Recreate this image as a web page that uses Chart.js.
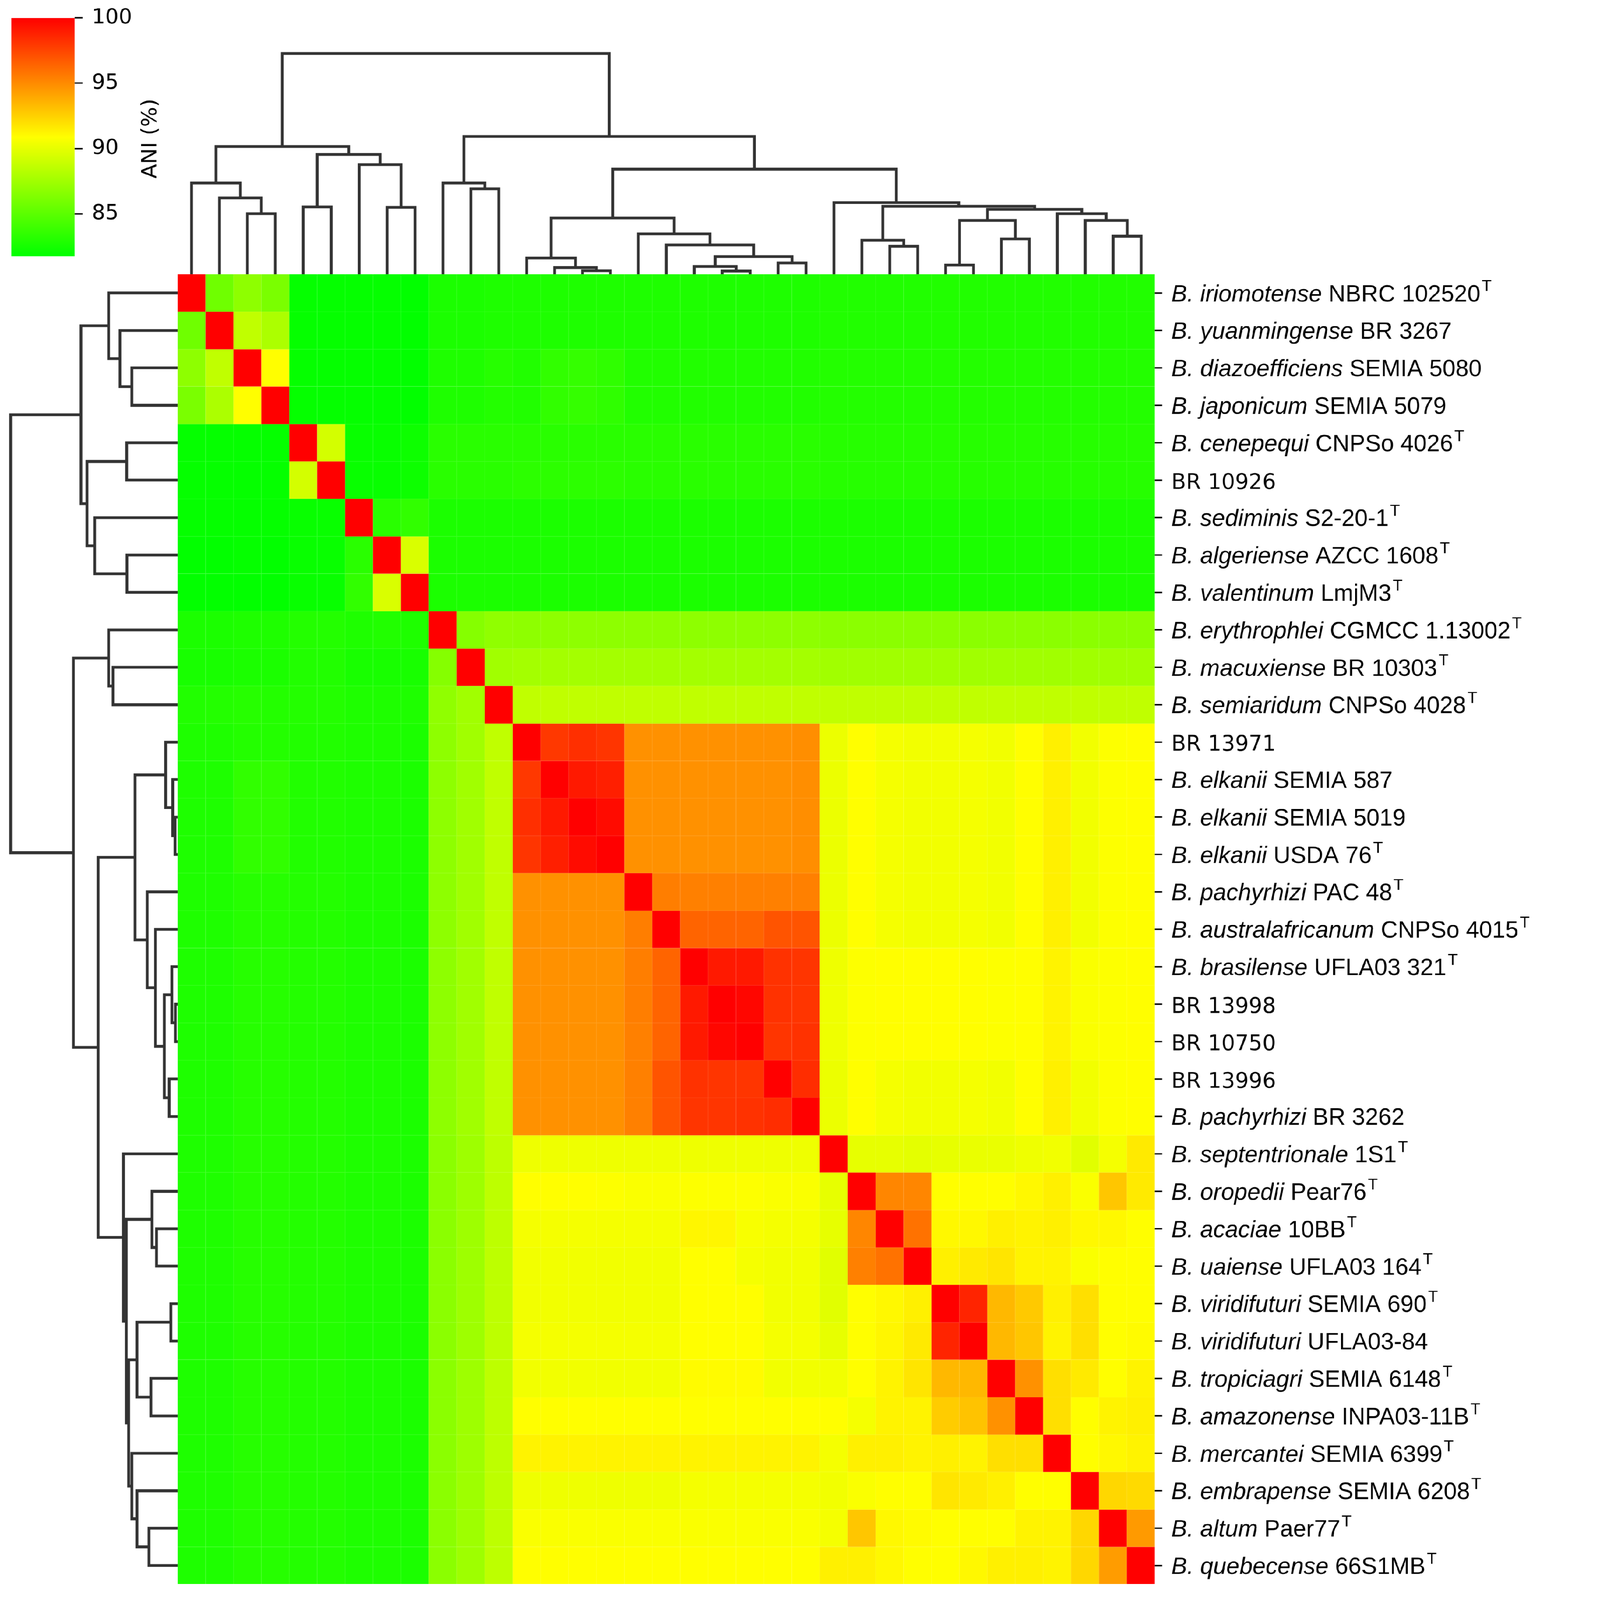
<!DOCTYPE html>
<html>
<head>
<meta charset="utf-8">
<script src="https://cdn.jsdelivr.net/npm/chart.js@4.4.1/dist/chart.umd.min.js"></script>
<style>
  html, body { margin: 0; padding: 0; background: #fff; overflow: hidden; }
  #page { position: absolute; left: 0; top: 0; width: 4394px; height: 4550px; transform-origin: 0 0; background: #fff; }
  #page canvas { position: absolute; }
</style>
</head>
<body>
<div id="page">
  <canvas id="topTree" style="left:505px;top:100px"></canvas>
  <canvas id="leftTree" style="left:0px;top:780px"></canvas>
  <canvas id="heatmap" style="left:505px;top:780px"></canvas>
  <canvas id="colorbar" style="left:0px;top:0px"></canvas>
</div>
<script>
// row / column order of the clustermap (same order on both axes)
const speciesNames = [
  'B. iriomotense', 'B. yuanmingense', 'B. diazoefficiens', 'B. japonicum', 'B. cenepequi',
  '', 'B. sediminis', 'B. algeriense', 'B. valentinum', 'B. erythrophlei',
  'B. macuxiense', 'B. semiaridum', '', 'B. elkanii', 'B. elkanii',
  'B. elkanii', 'B. pachyrhizi', 'B. australafricanum', 'B. brasilense', '',
  '', '', 'B. pachyrhizi', 'B. septentrionale', 'B. oropedii',
  'B. acaciae', 'B. uaiense', 'B. viridifuturi', 'B. viridifuturi', 'B. tropiciagri',
  'B. amazonense', 'B. mercantei', 'B. embrapense', 'B. altum', 'B. quebecense'
];
const strainNames = [
  'NBRC 102520', 'BR 3267', 'SEMIA 5080', 'SEMIA 5079', 'CNPSo 4026',
  'BR 10926', 'S2-20-1', 'AZCC 1608', 'LmjM3', 'CGMCC 1.13002',
  'BR 10303', 'CNPSo 4028', 'BR 13971', 'SEMIA 587', 'SEMIA 5019',
  'USDA 76', 'PAC 48', 'CNPSo 4015', 'UFLA03 321', 'BR 13998',
  'BR 10750', 'BR 13996', 'BR 3262', '1S1', 'Pear76',
  '10BB', 'UFLA03 164', 'SEMIA 690', 'UFLA03-84', 'SEMIA 6148',
  'INPA03-11B', 'SEMIA 6399', 'SEMIA 6208', 'Paer77', '66S1MB'
];
const typeStrain = [
  true, false, false, false, true,
  false, true, true, true, true,
  true, true, false, false, false,
  true, true, true, true, false,
  false, false, false, true, true,
  true, true, true, false, true,
  true, true, true, true, true
];

// ANI (%) matrix, rows/cols in the order above
const ani = [
  [100, 85.7, 86.8, 86.1,  81.9, 81.9,  81.9, 81.9, 81.8,  82.7, 82.7, 82.8,  82.8, 82.8, 82.8, 82.8,  82.8, 82.8, 82.8, 82.8, 82.8, 82.8, 82.8,  82.9, 82.9, 82.9, 82.9, 82.9, 82.9, 82.9, 82.9, 82.9, 82.9, 82.9, 82.9],
  [85.7, 100, 88.6, 87.9,  81.9, 81.9,  81.9, 81.9, 81.8,  82.7, 82.7, 82.8,  82.8, 82.8, 82.8, 82.8,  82.8, 82.8, 82.8, 82.8, 82.8, 82.8, 82.8,  82.9, 82.9, 82.9, 82.9, 82.9, 82.9, 82.9, 82.9, 82.9, 82.9, 82.9, 82.9],
  [86.8, 88.6, 100, 90.9,  81.9, 81.9,  81.9, 81.9, 81.8,  82.8, 82.8, 83.1,  82.9, 83.5, 83.6, 83.4,  82.9, 82.9, 82.9, 82.9, 82.9, 82.9, 82.9,  83.0, 83.0, 83.0, 83.0, 83.0, 83.0, 83.0, 83.0, 83.0, 83.0, 83.0, 83.0],
  [86.1, 87.9, 90.9, 100,  81.9, 81.9,  81.9, 81.9, 81.8,  82.8, 82.8, 83.0,  82.9, 83.5, 83.6, 83.4,  82.9, 82.9, 82.9, 82.9, 82.9, 82.9, 82.9,  83.0, 83.0, 83.0, 83.0, 83.0, 83.0, 83.0, 83.0, 83.0, 83.0, 83.0, 83.0],
  [81.9, 81.9, 81.9, 81.9,  100, 89.3,  82.0, 82.0, 82.2,  83.2, 83.2, 83.2,  83.2, 83.2, 83.2, 83.2,  83.2, 83.2, 83.2, 83.2, 83.2, 83.2, 83.2,  83.1, 83.1, 83.1, 83.1, 83.1, 83.1, 83.1, 83.1, 83.1, 83.1, 83.1, 83.1],
  [81.9, 81.9, 81.9, 81.9,  89.3, 100,  82.0, 82.0, 82.2,  83.2, 83.2, 83.2,  83.3, 83.3, 83.3, 83.3,  83.2, 83.2, 83.2, 83.2, 83.2, 83.2, 83.2,  83.1, 83.1, 83.1, 83.1, 83.1, 83.1, 83.1, 83.1, 83.1, 83.1, 83.1, 83.1],
  [81.9, 81.9, 81.9, 81.9,  82.0, 82.0,  100, 83.2, 83.5,  82.7, 82.7, 82.7,  82.7, 82.7, 82.7, 82.7,  82.7, 82.7, 82.7, 82.7, 82.7, 82.7, 82.7,  82.7, 82.7, 82.7, 82.7, 82.7, 82.7, 82.7, 82.7, 82.7, 82.7, 82.7, 82.7],
  [81.8, 81.8, 81.9, 81.8,  82.0, 82.0,  83.2, 100, 89.5,  82.7, 82.7, 82.7,  82.7, 82.7, 82.7, 82.7,  82.7, 82.7, 82.7, 82.7, 82.7, 82.7, 82.7,  82.7, 82.7, 82.7, 82.7, 82.7, 82.7, 82.7, 82.7, 82.7, 82.7, 82.7, 82.7],
  [81.8, 81.8, 81.8, 81.8,  82.0, 82.0,  83.5, 89.5, 100,  82.7, 82.7, 82.7,  82.7, 82.7, 82.7, 82.7,  82.7, 82.7, 82.7, 82.7, 82.7, 82.7, 82.7,  82.7, 82.7, 82.7, 82.7, 82.7, 82.7, 82.7, 82.7, 82.7, 82.7, 82.7, 82.7],
  [82.7, 82.7, 82.8, 82.8,  83.0, 83.0,  82.8, 82.9, 82.8,  100, 86.5, 86.9,  86.8, 86.8, 86.8, 86.8,  86.8, 86.8, 86.8, 86.8, 86.8, 86.8, 86.8,  86.7, 86.7, 86.7, 86.7, 86.7, 86.7, 86.7, 86.7, 86.7, 86.7, 86.7, 86.7],
  [82.6, 82.6, 82.7, 82.7,  82.9, 82.9,  82.6, 82.6, 82.6,  86.5, 100, 87.5,  87.6, 87.6, 87.6, 87.6,  87.6, 87.6, 87.6, 87.6, 87.6, 87.6, 87.6,  87.5, 87.5, 87.5, 87.5, 87.5, 87.5, 87.5, 87.5, 87.5, 87.5, 87.5, 87.5],
  [82.9, 83.0, 83.1, 83.0,  83.0, 83.0,  82.8, 82.8, 82.8,  86.9, 87.5, 100,  88.6, 88.6, 88.6, 88.6,  88.6, 88.6, 88.6, 88.6, 88.6, 88.6, 88.6,  88.6, 88.6, 88.6, 88.6, 88.6, 88.6, 88.6, 88.6, 88.6, 88.6, 88.6, 88.6],
  [82.8, 82.8, 83.0, 83.0,  82.9, 82.9,  82.8, 82.8, 82.7,  86.8, 87.5, 88.6,  100, 98.0, 98.3, 98.1,  94.8, 94.8, 94.8, 94.8, 94.8, 94.8, 94.9,  90.2, 90.9, 90.5, 90.4, 90.4, 90.5, 90.4, 90.9, 91.4, 90.4, 90.8, 90.9],
  [82.8, 82.8, 83.5, 83.5,  82.9, 82.9,  82.8, 82.8, 82.7,  86.8, 87.5, 88.6,  98.0, 100, 99.1, 98.9,  94.8, 94.8, 94.8, 94.8, 94.8, 94.8, 94.9,  90.2, 90.9, 90.5, 90.4, 90.4, 90.5, 90.4, 90.9, 91.4, 90.4, 90.8, 90.9],
  [82.8, 82.8, 83.5, 83.5,  82.9, 82.9,  82.8, 82.8, 82.7,  86.8, 87.5, 88.6,  98.3, 99.1, 100, 99.6,  94.8, 94.8, 94.8, 94.8, 94.8, 94.8, 94.9,  90.2, 90.9, 90.5, 90.4, 90.4, 90.5, 90.4, 90.9, 91.4, 90.4, 90.8, 90.9],
  [82.8, 82.8, 83.5, 83.5,  82.9, 82.9,  82.8, 82.8, 82.7,  86.8, 87.5, 88.6,  98.1, 98.9, 99.6, 100,  94.8, 94.8, 94.8, 94.8, 94.8, 94.8, 94.9,  90.2, 90.9, 90.5, 90.4, 90.4, 90.5, 90.4, 90.9, 91.4, 90.4, 90.8, 90.9],
  [82.8, 82.8, 83.1, 83.1,  83.0, 83.0,  82.8, 82.8, 82.7,  86.8, 87.5, 88.6,  94.8, 94.8, 94.8, 94.8,  100, 95.5, 95.4, 95.4, 95.4, 95.4, 95.4,  90.2, 90.9, 90.5, 90.4, 90.4, 90.5, 90.4, 90.9, 91.4, 90.4, 90.8, 90.9],
  [82.8, 82.8, 83.1, 83.1,  83.0, 83.0,  82.8, 82.8, 82.7,  86.8, 87.5, 88.6,  94.8, 94.8, 94.8, 94.8,  95.5, 100, 96.4, 96.4, 96.4, 97.0, 97.0,  90.2, 90.9, 90.5, 90.4, 90.4, 90.5, 90.4, 90.9, 91.4, 90.4, 90.8, 90.9],
  [82.8, 82.8, 83.1, 83.1,  83.0, 83.0,  82.8, 82.8, 82.7,  86.8, 87.5, 88.6,  94.8, 94.8, 94.8, 94.8,  95.5, 96.4, 100, 99.1, 99.1, 98.2, 98.1,  90.3, 90.8, 90.9, 90.9, 90.9, 90.9, 90.8, 90.9, 91.3, 90.7, 90.8, 90.9],
  [82.8, 82.8, 83.1, 83.1,  83.0, 83.0,  82.8, 82.8, 82.7,  86.8, 87.5, 88.6,  94.8, 94.8, 94.8, 94.8,  95.5, 96.4, 99.1, 100, 99.8, 98.2, 98.1,  90.3, 90.8, 90.9, 90.9, 90.9, 90.9, 90.8, 90.9, 91.3, 90.7, 90.8, 90.9],
  [82.8, 82.8, 83.1, 83.1,  83.0, 83.0,  82.8, 82.8, 82.7,  86.8, 87.5, 88.6,  94.8, 94.8, 94.8, 94.8,  95.4, 96.4, 99.1, 99.8, 100, 98.1, 98.2,  90.3, 90.8, 90.9, 90.9, 90.9, 90.9, 90.8, 90.9, 91.3, 90.7, 90.8, 90.9],
  [82.8, 82.8, 83.1, 83.1,  83.0, 83.0,  82.8, 82.8, 82.7,  86.8, 87.5, 88.6,  94.8, 94.8, 94.8, 94.8,  95.4, 97.0, 98.2, 98.1, 98.1, 100, 98.4,  90.2, 90.9, 90.5, 90.4, 90.4, 90.5, 90.4, 90.9, 91.4, 90.4, 90.8, 90.9],
  [82.8, 82.8, 83.1, 83.1,  83.0, 83.0,  82.8, 82.8, 82.7,  86.8, 87.5, 88.6,  94.8, 94.8, 94.8, 94.8,  95.4, 97.0, 98.1, 98.1, 98.2, 98.4, 100,  90.2, 90.9, 90.5, 90.4, 90.4, 90.5, 90.4, 90.9, 91.4, 90.4, 90.8, 90.9],
  [82.8, 82.8, 83.1, 83.1,  83.0, 83.0,  82.8, 82.8, 82.7,  86.7, 87.4, 88.5,  90.3, 90.3, 90.3, 90.3,  90.3, 90.3, 90.3, 90.3, 90.3, 90.3, 90.3,  100, 90.0, 90.0, 89.9, 90.0, 90.1, 90.1, 90.3, 90.4, 89.8, 90.5, 91.6],
  [82.8, 82.8, 83.1, 83.1,  83.0, 83.0,  82.8, 82.8, 82.7,  86.7, 87.4, 88.5,  90.9, 90.9, 90.9, 90.8,  90.7, 90.7, 90.8, 90.8, 90.8, 90.7, 90.7,  90.0, 100, 95.2, 95.2, 90.9, 90.9, 90.9, 91.1, 91.4, 90.7, 92.9, 91.6],
  [82.8, 82.8, 83.1, 83.1,  83.0, 83.0,  82.8, 82.8, 82.7,  86.7, 87.4, 88.5,  90.5, 90.5, 90.5, 90.5,  90.5, 90.5, 91.2, 91.2, 90.6, 90.5, 90.5,  90.0, 95.2, 100, 95.9, 91.1, 91.1, 91.4, 91.3, 91.4, 91.1, 91.1, 90.9],
  [82.8, 82.8, 83.1, 83.1,  83.0, 83.0,  82.8, 82.8, 82.7,  86.7, 87.4, 88.5,  90.4, 90.4, 90.4, 90.4,  90.4, 90.4, 90.9, 90.9, 90.5, 90.4, 90.4,  89.8, 95.4, 95.9, 100, 91.4, 91.6, 91.8, 91.3, 91.3, 90.7, 90.9, 90.9],
  [82.8, 82.8, 83.1, 83.1,  83.0, 83.0,  82.8, 82.8, 82.7,  86.7, 87.4, 88.5,  90.4, 90.4, 90.4, 90.4,  90.4, 90.4, 90.9, 90.9, 90.9, 90.4, 90.4,  89.8, 90.9, 91.1, 91.4, 100, 98.7, 93.4, 92.8, 91.4, 92.0, 90.9, 90.9],
  [82.8, 82.8, 83.1, 83.1,  83.0, 83.0,  82.8, 82.8, 82.7,  86.7, 87.4, 88.5,  90.5, 90.5, 90.5, 90.5,  90.5, 90.5, 90.9, 90.9, 90.9, 90.5, 90.5,  90.0, 90.9, 91.2, 91.6, 98.7, 100, 93.4, 92.9, 91.3, 92.0, 90.9, 91.0],
  [82.8, 82.8, 83.1, 83.1,  83.0, 83.0,  82.8, 82.8, 82.7,  86.7, 87.4, 88.5,  90.4, 90.4, 90.4, 90.4,  90.4, 90.4, 91.0, 91.0, 91.0, 90.4, 90.4,  90.4, 90.9, 91.3, 91.8, 93.4, 93.4, 100, 94.8, 92.0, 91.6, 90.9, 91.3],
  [82.8, 82.8, 83.1, 83.1,  83.0, 83.0,  82.8, 82.8, 82.7,  86.7, 87.4, 88.5,  90.9, 90.9, 90.9, 90.9,  90.9, 90.9, 90.9, 90.9, 90.9, 90.9, 90.9,  90.9, 90.5, 91.3, 91.3, 92.7, 93.0, 94.8, 100, 92.0, 90.9, 91.3, 91.4],
  [82.8, 82.8, 83.1, 83.1,  83.0, 83.0,  82.8, 82.8, 82.7,  86.7, 87.4, 88.5,  91.3, 91.3, 91.3, 91.3,  91.3, 91.3, 91.3, 91.3, 91.3, 91.3, 91.3,  90.5, 91.4, 91.4, 91.3, 91.4, 91.3, 92.0, 92.0, 100, 90.9, 91.1, 91.3],
  [82.8, 82.8, 83.1, 83.1,  83.0, 83.0,  82.8, 82.8, 82.7,  86.7, 87.4, 88.5,  90.3, 90.3, 90.3, 90.3,  90.3, 90.3, 90.5, 90.5, 90.5, 90.5, 90.5,  90.4, 90.7, 90.9, 90.9, 91.8, 91.6, 91.4, 90.9, 90.9, 100, 92.3, 92.2],
  [82.8, 82.8, 83.1, 83.1,  83.0, 83.0,  82.8, 82.8, 82.7,  86.7, 87.4, 88.5,  90.7, 90.7, 90.7, 90.7,  90.7, 90.7, 90.7, 90.7, 90.7, 90.7, 90.7,  90.5, 92.9, 91.1, 91.0, 90.9, 90.9, 90.9, 91.3, 91.3, 92.3, 100, 94.5],
  [82.8, 82.8, 83.1, 83.1,  83.0, 83.0,  82.8, 82.8, 82.7,  86.7, 87.4, 88.5,  90.9, 90.9, 90.9, 90.9,  90.9, 90.9, 90.9, 90.9, 90.9, 90.9, 90.9,  91.4, 91.4, 91.1, 90.9, 90.9, 91.1, 91.4, 91.4, 91.3, 92.3, 94.4, 100]
];

// colour scale limits and colourbar ticks
const aniMin = 81.73;
const aniMax = 100;
const colorTicks = [85, 90, 95, 100];

// dendrogram linkage: ids < 35 are leaves, id 35 + k is merge k
const mergeLeft = [14, 19, 13, 18, 27, 21, 12, 38, 17, 25, 24, 29, 33, 16, 39, 32, 41, 31, 2, 49, 45, 23, 7, 4, 1, 10, 0, 9, 51, 6, 58, 61, 62, 66];
const mergeRight = [15, 20, 35, 36, 28, 22, 37, 40, 42, 26, 44, 30, 34, 43, 46, 47, 48, 50, 3, 52, 54, 55, 8, 5, 53, 11, 59, 60, 56, 57, 64, 65, 63, 67];
const mergeHeight = [20, 18, 37, 43, 50, 62, 88, 97, 160, 153, 185, 193, 207, 220, 293, 293, 307, 330, 330, 353, 370, 390, 365, 367, 415, 465, 497, 497, 572, 597, 652, 695, 750, 1200];

const nLeaves = speciesNames.length;
const lineColor = '#333333';

// the figure is laid out on a 4394 x 4550 px page; fit it to the viewport
const pageW = 4394, pageH = 4550;
const fit = Math.min((window.innerWidth || pageW) / pageW, (window.innerHeight || pageH) / pageH);
document.getElementById('page').style.transform = 'scale(' + fit + ')';
const pixelRatio = (window.devicePixelRatio || 1) * fit;

function sizeCanvas(id, w, h) {
  const c = document.getElementById(id);
  c.style.width = w + 'px';
  c.style.height = h + 'px';
  c.width = w;
  c.height = h;
  return c;
}

function aniColor(v) {
  const t = Math.max(0, Math.min(1, (v - aniMin) / (aniMax - aniMin)));
  let r, g;
  if (t < 0.5) { r = Math.round(510 * t); g = 255; }
  else { r = 255; g = Math.round(510 * (1 - t)); }
  return 'rgb(' + r + ',' + g + ',0)';
}

// slightly washed out version of a cell colour, used for the thin cell seams
function seamColor(v) {
  const t = Math.max(0, Math.min(1, (v - aniMin) / (aniMax - aniMin)));
  let r, g;
  if (t < 0.5) { r = 510 * t; g = 255; }
  else { r = 255; g = 510 * (1 - t); }
  const m = 0.16;
  return 'rgb(' + Math.round(r + (255 - r) * m) + ',' + Math.round(g + (255 - g) * m) + ',' + Math.round(255 * m) + ')';
}

// one U-shaped polyline per merge, in (leaf position, height)
function treeSegments() {
  const pos = [];
  const hgt = [];
  for (let i = 0; i < nLeaves; i++) { pos.push(i + 0.5); hgt.push(0); }
  const segs = [];
  for (let k = 0; k < mergeHeight.length; k++) {
    const a = mergeLeft[k], b = mergeRight[k], h = mergeHeight[k];
    segs.push([[pos[a], hgt[a]], [pos[a], h], [pos[b], h], [pos[b], hgt[b]]]);
    pos.push((pos[a] + pos[b]) / 2);
    hgt.push(h);
  }
  return segs;
}

const segs = treeSegments();
const baseOpts = {
  responsive: false,
  animation: false,
  devicePixelRatio: pixelRatio,
  events: [],
  plugins: { legend: { display: false }, tooltip: { enabled: false } }
};

function treeDataset(points) {
  return {
    data: points,
    showLine: true,
    borderColor: lineColor,
    borderWidth: 8,
    pointRadius: 0,
    fill: false,
    tension: 0
  };
}

// top (column) dendrogram
new Chart(sizeCanvas('topTree', 2779, 680), {
  type: 'scatter',
  data: { datasets: segs.map(s => treeDataset(s.map(p => ({ x: p[0], y: p[1] })))) },
  options: Object.assign({}, baseOpts, {
    layout: { padding: 0 },
    scales: {
      x: { type: 'linear', display: false, min: 0, max: nLeaves },
      y: { type: 'linear', display: false, min: 0, max: 1300 }
    }
  })
});

// left (row) dendrogram
new Chart(sizeCanvas('leftTree', 505, 3725), {
  type: 'scatter',
  data: { datasets: segs.map(s => treeDataset(s.map(p => ({ x: p[1], y: p[0] })))) },
  options: Object.assign({}, baseOpts, {
    layout: { padding: 0 },
    scales: {
      x: { type: 'linear', display: false, min: 0, max: 1276, reverse: true },
      y: { type: 'linear', display: false, min: 0, max: nLeaves, reverse: true }
    }
  })
});

// row labels at the right of the heatmap
const rowLabels = {
  id: 'rowLabels',
  afterDraw(chart) {
    const { ctx, chartArea, scales } = chart;
    ctx.save();
    ctx.fillStyle = '#000';
    ctx.strokeStyle = '#000';
    ctx.lineWidth = 4;
    ctx.textAlign = 'left';
    ctx.textBaseline = 'alphabetic';
    for (let i = 0; i < nLeaves; i++) {
      const y = scales.y.getPixelForValue(i + 0.5);
      ctx.beginPath();
      ctx.moveTo(chartArea.right, y);
      ctx.lineTo(chartArea.right + 21, y);
      ctx.stroke();
      let x = chartArea.right + 47;
      const base = y + 24;
      if (speciesNames[i]) {
        ctx.font = 'italic 67px "Liberation Sans"';
        ctx.fillText(speciesNames[i], x, base);
        x += ctx.measureText(speciesNames[i] + ' ').width;
        ctx.font = '67px "Liberation Sans"';
      } else {
        ctx.font = '61px "DejaVu Sans"';
      }
      ctx.fillText(strainNames[i], x, base);
      x += ctx.measureText(strainNames[i]).width;
      if (typeStrain[i]) {
        ctx.font = '46px "Liberation Sans"';
        ctx.fillText('T', x + 4, base - 29);
      }
    }
    ctx.restore();
  }
};

// heatmap: one dataset per row, floating bars [row, row + 1]
new Chart(sizeCanvas('heatmap', 3889, 3725), {
  type: 'bar',
  data: {
    labels: strainNames,
    datasets: ani.map((row, i) => ({
      data: row.map(() => [i, i + 1]),
      backgroundColor: row.map(aniColor),
      borderColor: row.map(seamColor),
      borderWidth: 1,
      borderSkipped: false,
      barPercentage: 1,
      categoryPercentage: 1
    }))
  },
  options: Object.assign({}, baseOpts, {
    layout: { padding: { left: 0, top: 0, bottom: 0, right: 1110 } },
    scales: {
      x: { display: false, stacked: true },
      y: { display: false, min: 0, max: nLeaves, reverse: true }
    }
  }),
  plugins: [rowLabels]
});

// colour bar
const colorbarTitle = {
  id: 'colorbarTitle',
  afterDraw(chart) {
    const { ctx } = chart;
    ctx.save();
    ctx.translate(429, 394);
    ctx.rotate(-Math.PI / 2);
    ctx.fillStyle = '#000';
    ctx.font = '60px "DejaVu Sans"';
    ctx.textAlign = 'center';
    ctx.textBaseline = 'middle';
    ctx.fillText('ANI (%)', 0, 0);
    ctx.restore();
  }
};

new Chart(sizeCanvas('colorbar', 560, 760), {
  type: 'bar',
  data: {
    labels: ['ANI'],
    datasets: [{
      data: [[aniMin, aniMax]],
      backgroundColor(c) {
        const { chart } = c;
        const ys = chart.scales.y;
        if (!chart.chartArea || !ys) return '#ffff00';
        const g = chart.ctx.createLinearGradient(0, ys.getPixelForValue(aniMin), 0, ys.getPixelForValue(aniMax));
        g.addColorStop(0, aniColor(aniMin));
        g.addColorStop(0.5, aniColor((aniMin + aniMax) / 2));
        g.addColorStop(1, aniColor(aniMax));
        return g;
      },
      borderWidth: 0,
      barPercentage: 1,
      categoryPercentage: 1
    }]
  },
  options: Object.assign({}, baseOpts, {
    layout: { padding: { left: 32, top: 51, bottom: 31, right: 0 } },
    scales: {
      x: { display: false },
      y: {
        position: 'right',
        min: aniMin,
        max: aniMax,
        afterBuildTicks(s) { s.ticks = colorTicks.map(v => ({ value: v })); },
        afterFit(s) { s.width = 348; s.paddingTop = 0; s.paddingBottom = 0; },
        grid: { drawOnChartArea: false, tickLength: 23, tickWidth: 4, color: '#000' },
        border: { display: false },
        ticks: { padding: 26, color: '#000', font: { family: 'DejaVu Sans', size: 60 } }
      }
    }
  }),
  plugins: [colorbarTitle]
});
</script>
</body>
</html>
